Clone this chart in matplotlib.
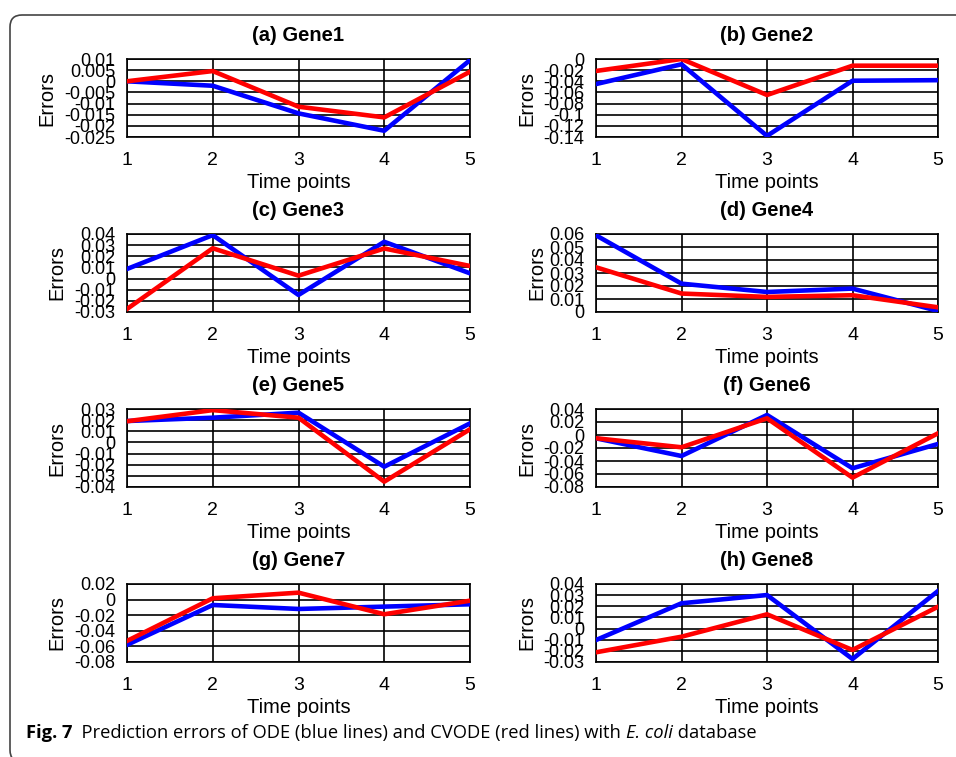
import matplotlib
matplotlib.use("Agg")
import matplotlib.pyplot as plt
import matplotlib.patches as mpatches

# --- DADOS ---
tempos = [1, 2, 3, 4, 5]

titulos = ["(a) Gene1", "(b) Gene2", "(c) Gene3", "(d) Gene4",
           "(e) Gene5", "(f) Gene6", "(g) Gene7", "(h) Gene8"]

# erros ODE (linhas azuis)
ode_g1 = [0.0, -0.002, -0.0144, -0.0222, 0.0095]
ode_g2 = [-0.045, -0.0095, -0.138, -0.039, -0.038]
ode_g3 = [0.0086, 0.039, -0.0147, 0.033, 0.0047]
ode_g4 = [0.059, 0.0218, 0.0154, 0.018, 0.0008]
ode_g5 = [0.0192, 0.0222, 0.0267, -0.0218, 0.0171]
ode_g6 = [-0.0051, -0.0323, 0.0308, -0.0512, -0.0138]
ode_g7 = [-0.058, -0.0069, -0.012, -0.009, -0.006]
ode_g8 = [-0.0103, 0.0227, 0.0301, -0.0273, 0.0337]

# erros CVODE (linhas vermelhas)
cvode_g1 = [0.0, 0.0046, -0.0114, -0.0162, 0.0043]
cvode_g2 = [-0.0215, 0.0, -0.0646, -0.012, -0.012]
cvode_g3 = [-0.0273, 0.0272, 0.0026, 0.027, 0.0113]
cvode_g4 = [0.0344, 0.0142, 0.0116, 0.0129, 0.0036]
cvode_g5 = [0.019, 0.029, 0.0222, -0.0352, 0.0118]
cvode_g6 = [-0.005, -0.0189, 0.0257, -0.0656, 0.0026]
cvode_g7 = [-0.053, 0.0017, 0.0089, -0.0188, -0.0014]
cvode_g8 = [-0.0213, -0.0073, 0.0128, -0.0192, 0.0196]

# limites e passo do eixo y
y_min = [-0.025, -0.14, -0.03, 0.0, -0.04, -0.08, -0.08, -0.03]
y_max = [0.01, 0.0, 0.04, 0.06, 0.03, 0.04, 0.02, 0.04]
y_passo = [0.005, 0.02, 0.01, 0.01, 0.01, 0.02, 0.02, 0.01]

ode = [ode_g1, ode_g2, ode_g3, ode_g4, ode_g5, ode_g6, ode_g7, ode_g8]
cvode = [cvode_g1, cvode_g2, cvode_g3, cvode_g4, cvode_g5, cvode_g6, cvode_g7, cvode_g8]

# --- LAYOUT (pixels) ---
W, H = 956, 757
col_x = [127, 596]
col_w = [343, 342]
linha_topo = [59, 234, 409, 584]
alt = 78
# distância do "Errors" até a borda esquerda do eixo
ylabel_off = [71, 60, 61, 50, 61, 60, 61, 60]

plt.rcParams['font.family'] = ['Liberation Sans', 'DejaVu Sans']

fig = plt.figure(figsize=(W / 100, H / 100), dpi=100)


def fmt(v):
    s = "%g" % round(v, 6)
    if s == "-0":
        s = "0"
    return s


for i in range(8):
    c = i % 2
    r = i // 2
    x0 = col_x[c]
    w = col_w[c]
    top = linha_topo[r]
    ax = fig.add_axes([x0 / W, 1 - (top + alt) / H, w / W, alt / H])

    ax.plot(tempos, ode[i], color=(0, 0, 1), linewidth=3.3, zorder=3)
    ax.plot(tempos, cvode[i], color=(1, 0, 0), linewidth=3.3, zorder=3)

    n = int(round((y_max[i] - y_min[i]) / y_passo[i]))
    yt = [y_min[i] + k * y_passo[i] for k in range(n + 1)]
    ax.set_yticks(yt)
    ax.set_yticklabels([fmt(v) for v in yt])
    ax.set_ylim(y_min[i], y_max[i])
    ax.set_xlim(1, 5)
    ax.set_xticks(tempos)

    ax.grid(True, color='black', linewidth=1.2)
    ax.set_axisbelow(True)
    for s in ax.spines.values():
        s.set_linewidth(1.2)
        s.set_color('black')
    ax.tick_params(axis='both', length=0)
    ax.tick_params(axis='x', pad=11, labelsize=14)
    ax.tick_params(axis='y', pad=8.5, labelsize=13)

    ax.set_title(titulos[i], fontsize=14.5, fontweight='bold', pad=13)
    ax.set_xlabel('Time points', fontsize=14.5, labelpad=3)
    ax.set_ylabel('Errors', fontsize=14.5)
    ax.yaxis.set_label_coords(-ylabel_off[i] / w, 0.5)

# borda arredondada
borda = mpatches.FancyBboxPatch((0.10, -0.05), 10.0, 7.42 + 0.05,
                                boxstyle="round,pad=0,rounding_size=0.12",
                                transform=fig.dpi_scale_trans, fill=False,
                                edgecolor='#444444', linewidth=1.2)
fig.patches.append(borda)

# legenda da figura
cap_font = ['Open Sans', 'DejaVu Sans']
cap_size = 13.2
base_y = 1 - 738.3 / H
renderer = fig.canvas.get_renderer()
partes = [("Fig. 7", 'bold', 'normal'),
          ("  Prediction errors of ODE (blue lines) and CVODE (red lines) with ", 'normal', 'normal'),
          ("E. coli", 'normal', 'italic'),
          (" database", 'normal', 'normal')]
x_px = 25.7
for txt, peso, estilo in partes:
    t = fig.text(x_px / W, base_y, txt, family=cap_font, fontsize=cap_size,
                 fontweight=peso, fontstyle=estilo, va='baseline', ha='left')
    bb = t.get_window_extent(renderer=renderer)
    x_px += bb.width

fig.savefig('out.png', dpi=100)
